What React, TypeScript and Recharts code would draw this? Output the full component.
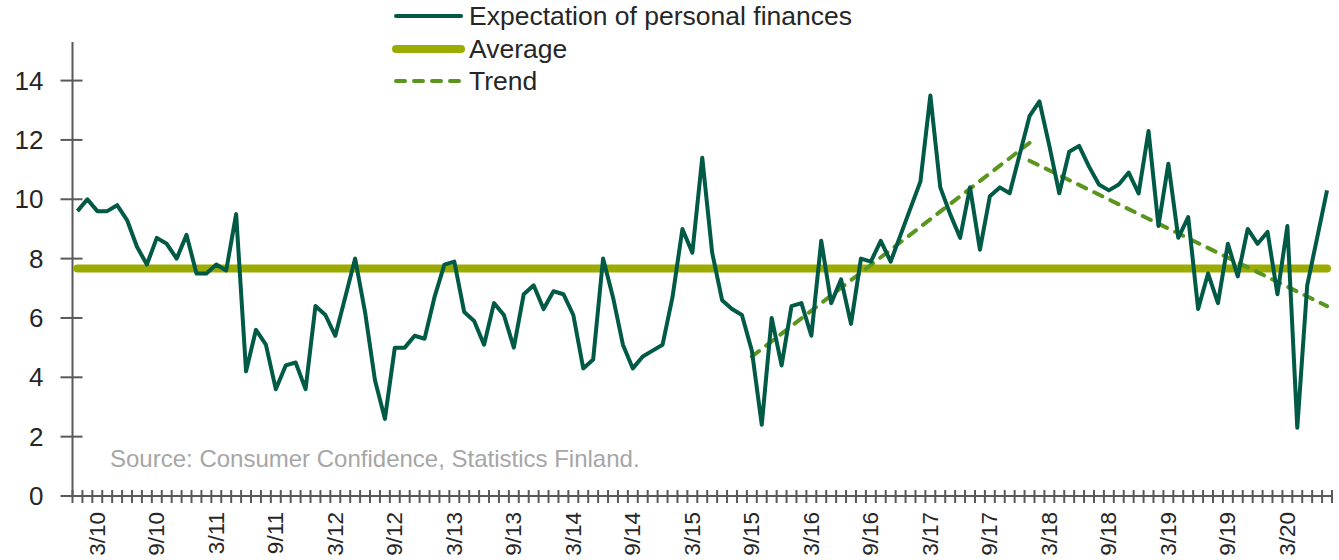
import React from 'react';
import { LineChart, Line, XAxis, YAxis } from 'recharts';

// Monthly values, Jan 2010 .. Jul 2020
const EXPECTATION = [
  9.6, 10.0, 9.6, 9.6, 9.8, 9.3, 8.4, 7.8, 8.7, 8.5, 8.0, 8.8,
  7.5, 7.5, 7.8, 7.6, 9.5, 4.2, 5.6, 5.1, 3.6, 4.4, 4.5, 3.6,
  6.4, 6.1, 5.4, 6.7, 8.0, 6.2, 3.9, 2.6, 5.0, 5.0, 5.4, 5.3,
  6.7, 7.8, 7.9, 6.2, 5.9, 5.1, 6.5, 6.1, 5.0, 6.8, 7.1, 6.3,
  6.9, 6.8, 6.1, 4.3, 4.6, 8.0, 6.7, 5.1, 4.3, 4.7, 4.9, 5.1,
  6.7, 9.0, 8.2, 11.4, 8.2, 6.6, 6.3, 6.1, 4.9, 2.4, 6.0, 4.4,
  6.4, 6.5, 5.4, 8.6, 6.5, 7.3, 5.8, 8.0, 7.9, 8.6, 7.9, 8.8,
  9.7, 10.6, 13.5, 10.4, 9.5, 8.7, 10.4, 8.3, 10.1, 10.4, 10.2, 11.5,
  12.8, 13.3, 11.8, 10.2, 11.6, 11.8, 11.1, 10.5, 10.3, 10.5, 10.9, 10.2,
  12.3, 9.1, 11.2, 8.7, 9.4, 6.3, 7.5, 6.5, 8.5, 7.4, 9.0, 8.5,
  8.9, 6.8, 9.1, 2.3, 7.1, 8.7, 10.3,
];
const AVERAGE = 7.67;
// trend segments: month index -> value
const TREND_UP = [{ i: 68, v: 4.7 }, { i: 96, v: 11.9 }];
const TREND_DOWN = [{ i: 96, v: 11.3 }, { i: 126, v: 6.4 }];

const TICK_LABELS = [
  '3/10', '9/10', '3/11', '9/11', '3/12', '9/12', '3/13', '9/13', '3/14', '9/14',
  '3/15', '9/15', '3/16', '9/16', '3/17', '9/17', '3/18', '9/18', '3/19', '9/19', '3/20',
];
const Y_TICKS = [0, 2, 4, 6, 8, 10, 12, 14];

const FONT = '"Liberation Sans", Arial, sans-serif';
const C_SERIES = '#005a46';
const C_AVG = '#9bab00';
const C_TREND = '#5a961e';
const C_AXIS = '#595959';
const C_TEXT = '#262626';

const monthLabel = (i: number) => `${(i % 12) + 1}/${10 + Math.floor(i / 12)}`;

const findTrend = (pts: { i: number; v: number }[], i: number) => {
  const p = pts.find((q) => q.i === i);
  return p ? p.v : null;
};

const data = EXPECTATION.map((v, i) => ({
  i,
  label: monthLabel(i),
  value: v,
  avg: AVERAGE,
  up: findTrend(TREND_UP, i),
  down: findTrend(TREND_DOWN, i),
}));

// ticks at category boundaries (marks) and centres (labels)
const xTicks: number[] = [];
for (let k = -1; k <= EXPECTATION.length * 2 - 1; k++) xTicks.push(k / 2);

const XTick = (props: any) => {
  const { x, y, payload } = props;
  const v = payload.value;
  if (!Number.isInteger(v)) {
    return <line x1={x} x2={x} y1={y - 6} y2={y + 7} stroke={C_AXIS} strokeWidth={2} />;
  }
  const lbl = monthLabel(v);
  if (!TICK_LABELS.includes(lbl)) return <g />;
  return (
    <text
      transform={`translate(${x},${y + 16}) rotate(-90)`}
      textAnchor="end"
      dominantBaseline="central"
      fontSize={22.5}
      fontFamily={FONT}
      fill={C_TEXT}
    >
      {lbl}
    </text>
  );
};

const YTick = (props: any) => {
  const { x, y, payload } = props;
  return (
    <g>
      <line x1={x - 12} x2={x + 10} y1={y} y2={y} stroke={C_AXIS} strokeWidth={2} />
      <text x={x - 29} y={y} textAnchor="end" dominantBaseline="central" fontSize={26} fontFamily={FONT} fill={C_TEXT}>
        {payload.value}
      </text>
    </g>
  );
};

const legendItems = [
  { name: 'Expectation of personal finances', color: C_SERIES, width: 4, dash: undefined as string | undefined },
  { name: 'Average', color: C_AVG, width: 8, dash: undefined },
  { name: 'Trend', color: C_TREND, width: 4, dash: '9 9' },
];

export default function App() {
  return (
    <div style={{ position: 'absolute', left: 0, top: 0, width: 1339, height: 560, background: '#fff', fontFamily: FONT }}>
      <LineChart width={1339} height={560} data={data} margin={{ top: 42, right: 7, bottom: 0, left: 0 }}>
        <XAxis
          dataKey="i"
          type="number"
          domain={[-0.5, EXPECTATION.length - 0.5]}
          ticks={xTicks}
          interval={0}
          height={64}
          tickSize={0}
          tickMargin={0}
          tick={<XTick />}
          axisLine={{ stroke: C_AXIS, strokeWidth: 2 }}
          tickLine={false}
        />
        <YAxis
          type="number"
          domain={[0, 15.3]}
          ticks={Y_TICKS}
          interval={0}
          width={72.5}
          tickSize={0}
          tickMargin={0}
          tick={<YTick />}
          axisLine={{ stroke: C_AXIS, strokeWidth: 2 }}
          tickLine={false}
        />
        <Line dataKey="avg" type="linear" stroke={C_AVG} strokeWidth={8} strokeLinecap="round" dot={false} isAnimationActive={false} />
        <Line dataKey="up" type="linear" stroke={C_TREND} strokeWidth={4} strokeDasharray="9 9" strokeLinecap="round" connectNulls dot={false} isAnimationActive={false} />
        <Line dataKey="down" type="linear" stroke={C_TREND} strokeWidth={4} strokeDasharray="9 9" strokeLinecap="round" connectNulls dot={false} isAnimationActive={false} />
        <Line dataKey="value" type="linear" stroke={C_SERIES} strokeWidth={4} strokeLinejoin="round" dot={false} isAnimationActive={false} />
      </LineChart>

      <div style={{ position: 'absolute', left: 390, top: 0 }}>
        {legendItems.map((it) => (
          <div key={it.name} style={{ display: 'flex', alignItems: 'center', height: 32.5 }}>
            <svg width={76} height={12}>
              <line x1={6} x2={71} y1={6} y2={6} stroke={it.color} strokeWidth={it.width} strokeLinecap="round" strokeDasharray={it.dash} />
            </svg>
            <span style={{ fontSize: 26.5, color: C_TEXT, marginLeft: 3, lineHeight: 1 }}>{it.name}</span>
          </div>
        ))}
      </div>

      <div style={{ position: 'absolute', left: 110, top: 447, fontSize: 24, color: '#a6a6a6', lineHeight: 1 }}>
        Source: Consumer Confidence, Statistics Finland.
      </div>
    </div>
  );
}
